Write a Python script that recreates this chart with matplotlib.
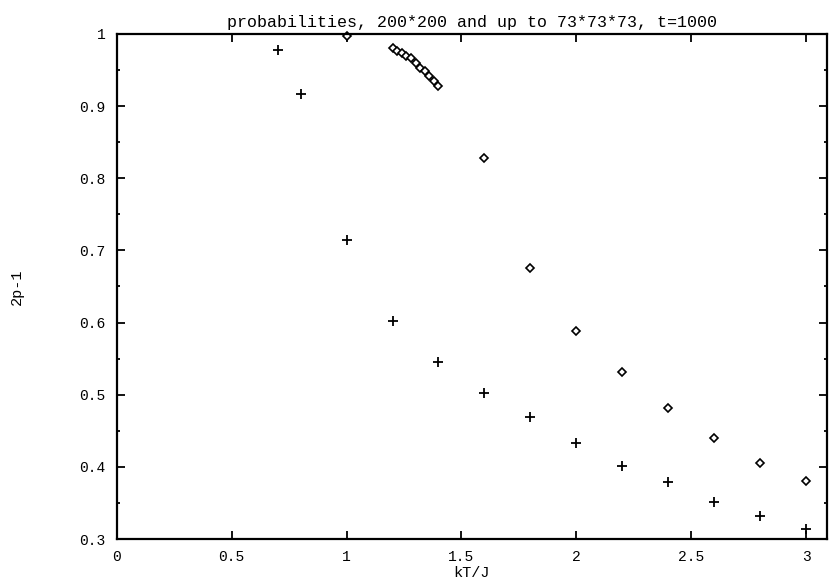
import matplotlib.pyplot as plt
from matplotlib.ticker import MultipleLocator

plt.rcParams['font.family'] = ['Liberation Mono', 'DejaVu Sans Mono']

# 2D lattice (200*200), crosses
kt_2d = [0.7, 0.8, 1.0, 1.2, 1.4, 1.6, 1.8, 2.0, 2.2, 2.4, 2.6, 2.8, 3.0]
p_2d = [0.978, 0.917, 0.714, 0.602, 0.545, 0.503, 0.469, 0.433, 0.401, 0.379, 0.352, 0.332, 0.314]

# 3D lattice (up to 73*73*73), diamonds
kt_3d = [1.0, 1.2, 1.22, 1.24, 1.26, 1.28, 1.30, 1.32, 1.34, 1.36, 1.38, 1.40,
         1.6, 1.8, 2.0, 2.2, 2.4, 2.6, 2.8, 3.0]
p_3d = [0.997, 0.980, 0.976, 0.973, 0.970, 0.966, 0.960, 0.953, 0.948, 0.942, 0.935, 0.928,
        0.828, 0.676, 0.588, 0.531, 0.482, 0.440, 0.406, 0.380]

fig = plt.figure(figsize=(8.35, 5.84), dpi=100)
ax = fig.add_axes([0.140, 0.077, 0.850, 0.865])

ax.plot(kt_2d, p_2d, linestyle='none', marker='+', markersize=7, mew=1.3, color='black', clip_on=False)
ax.plot(kt_3d, p_3d, linestyle='none', marker='D', markersize=4.5, mew=1.2,
        markerfacecolor='white', markeredgecolor='black', clip_on=False)

ax.set_xlim(0, 3.09)
ax.set_ylim(0.3, 1.0)
ax.yaxis.set_minor_locator(MultipleLocator(0.05))
ax.set_xticks([0, 0.5, 1, 1.5, 2, 2.5, 3])
ax.set_xticklabels(['0', '0.5', '1', '1.5', '2', '2.5', '3'])
ax.set_yticks([0.3, 0.4, 0.5, 0.6, 0.7, 0.8, 0.9, 1.0])
ax.set_yticklabels(['0.3', '0.4', '0.5', '0.6', '0.7', '0.8', '0.9', '1'])

ax.tick_params(which='both', direction='in', top=True, right=True, labelsize=10.5, width=1.3)
ax.tick_params(which='major', length=6, pad=8)
ax.tick_params(which='minor', length=2.5)
for s in ax.spines.values():
    s.set_linewidth(1.6)

ax.set_title('probabilities, 200*200 and up to 73*73*73, t=1000', fontsize=12, pad=5)
ax.set_xlabel('kT/J', fontsize=11, labelpad=1)
ax.set_ylabel('2p-1', fontsize=11, labelpad=40)

plt.savefig('out.png', dpi=100)
